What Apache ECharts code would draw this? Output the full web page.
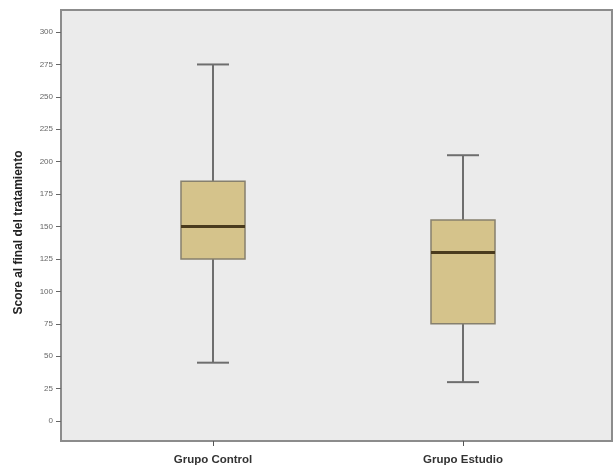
<!DOCTYPE html>
<html>
<head>
<meta charset="utf-8">
<script src="https://cdn.jsdelivr.net/npm/echarts@6/dist/echarts.min.js"></script>
<style>html,body{margin:0;padding:0;background:#fff}#c{width:616px;height:470px}</style>
</head>
<body>
<div id="c"></div>
<script>
const categories = ['Grupo Control', 'Grupo Estudio'];
const whiskerLow = [45, 30];
const q1 = [125, 75];
const median = [150, 130];
const q3 = [185, 155];
const whiskerHigh = [275, 205];
const yTicks = [0, 25, 50, 75, 100, 125, 150, 175, 200, 225, 250, 275, 300];

const data = categories.map((c, i) => [i, whiskerLow[i], q1[i], median[i], q3[i], whiskerHigh[i]]);

const chart = echarts.init(document.getElementById('c'));
const Y_MIN = -15.4, Y_MAX = 317;

chart.setOption({
  animation: false,
  backgroundColor: '#ffffff',
  grid: [
    {left: 61, right: 4, top: 10, bottom: 29, show: true, backgroundColor: '#ebebeb', borderColor: '#8c8c8c', borderWidth: 2},
    {left: 88, width: 500, top: 10, bottom: 29}
  ],
  xAxis: [
    {gridIndex: 0, type: 'value', min: 0, max: 1, show: false},
    {gridIndex: 1, type: 'category', data: categories, position: 'bottom',
     axisLine: {show: false, onZero: false},
     axisTick: {show: true, alignWithLabel: true, length: 5, lineStyle: {color: '#555', width: 1}},
     axisLabel: {color: '#333', fontFamily: 'Liberation Sans, Arial', fontWeight: 'bold', fontSize: 11.5, margin: 13}}
  ],
  yAxis: [
    {gridIndex: 0, type: 'value', min: Y_MIN, max: Y_MAX,
     name: 'Score al final del tratamiento', nameLocation: 'middle', nameGap: 36,
     nameTextStyle: {color: '#222', fontFamily: 'Liberation Sans, Arial', fontWeight: 'bold', fontSize: 12, padding: [0, 14, 0, 0]},
     axisLine: {show: true, lineStyle: {color: '#8c8c8c', width: 2}},
     axisTick: {show: true, length: 5, customValues: yTicks, lineStyle: {color: '#666'}},
     axisLabel: {customValues: yTicks, color: '#666', fontFamily: 'Liberation Sans, Arial', fontSize: 8, margin: 8},
     splitLine: {show: false}},
    {gridIndex: 1, type: 'value', min: Y_MIN, max: Y_MAX, show: false, splitLine: {show: false}}
  ],
  series: [{
    type: 'custom',
    xAxisIndex: 1, yAxisIndex: 1,
    data: data,
    encode: {x: 0, y: [1, 2, 3, 4, 5]},
    renderItem: function (params, api) {
      const idx = api.value(0);
      const band = api.size([1, 0])[0];
      const bw = band * 0.256;
      const cw = bw * 0.5;
      const lo = api.coord([idx, api.value(1)]);
      const p1 = api.coord([idx, api.value(2)]);
      const md = api.coord([idx, api.value(3)]);
      const p3 = api.coord([idx, api.value(4)]);
      const hi = api.coord([idx, api.value(5)]);
      const cx = lo[0];
      const wStyle = {stroke: '#6e6e6e', lineWidth: 2};
      return {
        type: 'group',
        children: [
          {type: 'line', shape: {x1: cx, y1: hi[1], x2: cx, y2: p3[1]}, style: wStyle},
          {type: 'line', shape: {x1: cx, y1: p1[1], x2: cx, y2: lo[1]}, style: wStyle},
          {type: 'line', shape: {x1: cx - cw / 2, y1: hi[1], x2: cx + cw / 2, y2: hi[1]}, style: wStyle},
          {type: 'line', shape: {x1: cx - cw / 2, y1: lo[1], x2: cx + cw / 2, y2: lo[1]}, style: wStyle},
          {type: 'rect', shape: {x: cx - bw / 2, y: p3[1], width: bw, height: p1[1] - p3[1]},
           style: {fill: '#d5c38b', stroke: '#86806e', lineWidth: 1.5}},
          {type: 'line', shape: {x1: cx - bw / 2, y1: md[1], x2: cx + bw / 2, y2: md[1]},
           style: {stroke: '#4a3b1e', lineWidth: 3}}
        ]
      };
    }
  }]
});
</script>
</body>
</html>
